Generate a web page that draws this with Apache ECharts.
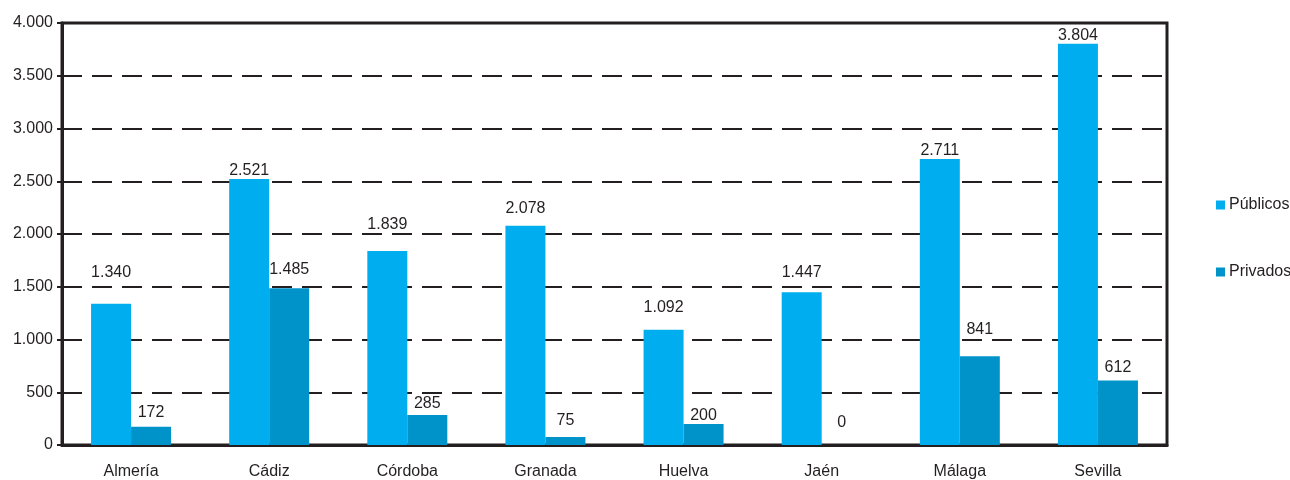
<!DOCTYPE html>
<html>
<head>
<meta charset="utf-8">
<script src="https://cdn.jsdelivr.net/npm/echarts@6/dist/echarts.min.js"></script>
<style>
html,body{margin:0;padding:0;background:#fff;}
#chart{width:1290px;height:480px;}
</style>
</head>
<body>
<div id="chart"></div>
<script>
// Data
const categories = ['Almería', 'Cádiz', 'Córdoba', 'Granada', 'Huelva', 'Jaén', 'Málaga', 'Sevilla'];
const publicos = [1340, 2521, 1839, 2078, 1092, 1447, 2711, 3804];
const privados = [172, 1485, 285, 75, 200, 0, 841, 612];
const seriesNames = ['Públicos', 'Privados'];
const yTicks = [0, 500, 1000, 1500, 2000, 2500, 3000, 3500, 4000];

// Style: label distance above each bar (mimics the original label placement)
const labelDistPub = [23, 0, 18, 9, 14, 12, 0, 0];
const labelDistPriv = [6, 11, 3, 8, 0, 14, 19, 5];

const FONT = '"Liberation Sans", Arial, sans-serif';
const TEXT = '#231f20';
const fmt = v => v.toLocaleString('de-DE');

function mkData(values, dists) {
  return values.map((v, i) => ({
    value: v,
    label: { distance: dists[i] }
  }));
}

const chart = echarts.init(document.getElementById('chart'), null, { renderer: 'canvas' });
chart.setOption({
  animation: false,
  backgroundColor: '#ffffff',
  textStyle: { fontFamily: FONT },
  grid: {
    left: 62, right: 123, top: 23, bottom: 34,
    show: true, borderColor: '#231f20', borderWidth: 3, backgroundColor: 'transparent'
  },
  legend: {
    orient: 'vertical',
    left: 1211, top: 192,
    itemWidth: 9, itemHeight: 9, itemGap: 51,
    icon: 'rect',
    textStyle: { fontFamily: FONT, fontSize: 16, color: TEXT, padding: [0, 0, 0, -1] },
    data: seriesNames
  },
  xAxis: {
    type: 'category',
    data: categories,
    axisLine: { show: true, lineStyle: { color: '#231f20', width: 3 } },
    axisTick: { show: false },
    axisLabel: { fontFamily: FONT, fontSize: 16, color: TEXT, margin: 19 },
    splitLine: { show: false }
  },
  yAxis: {
    type: 'value',
    min: yTicks[0], max: yTicks[yTicks.length - 1], interval: 500,
    axisLine: { show: true, lineStyle: { color: '#231f20', width: 3 } },
    axisTick: { show: true, length: 5, lineStyle: { color: '#231f20', width: 2 } },
    axisLabel: { fontFamily: FONT, fontSize: 16, color: TEXT, margin: 9, formatter: fmt },
    splitLine: { show: true, lineStyle: { color: '#231f20', width: 2, type: [20, 10] } }
  },
  series: [
    {
      name: seriesNames[0], type: 'bar', barWidth: 40, barGap: '0%',
      itemStyle: { color: '#00aeef' },
      label: { show: true, position: 'top', fontFamily: FONT, fontSize: 16, color: TEXT,
        formatter: p => fmt(p.value) },
      data: mkData(publicos, labelDistPub)
    },
    {
      name: seriesNames[1], type: 'bar', barWidth: 40, barGap: '0%',
      itemStyle: { color: '#0093c9' },
      label: { show: true, position: 'top', fontFamily: FONT, fontSize: 16, color: TEXT,
        formatter: p => fmt(p.value) },
      data: mkData(privados, labelDistPriv)
    }
  ]
});
</script>
</body>
</html>
